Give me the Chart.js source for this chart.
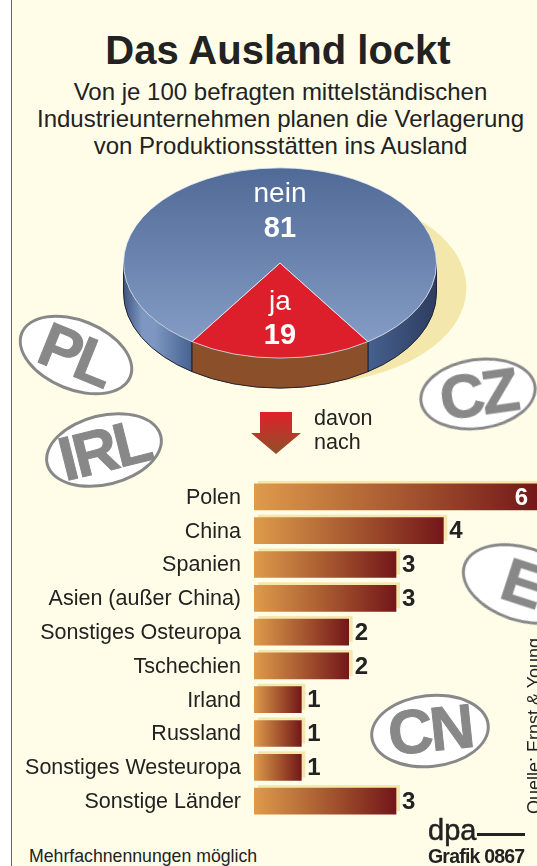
<!DOCTYPE html>
<html lang="de">
<head>
<meta charset="utf-8">
<title>Das Ausland lockt</title>
<script src="https://cdn.jsdelivr.net/npm/chart.js@4"></script>
<style>
    html, body { margin: 0; padding: 0; background: #fff; }
    body { width: 537px; height: 866px; overflow: hidden; position: relative; font-family: "Liberation Sans", Arial, sans-serif; color: #222; }
    #paper { position: absolute; left: 11px; top: 0; width: 526px; height: 866px; background: #fffde8; border-left: 1.5px solid #666; box-sizing: border-box; }
    canvas { position: absolute; }
    #pieCanvas { left: 80px; top: 106px; }
    #barCanvas { left: 0; top: 480px; }
    .txt { position: absolute; white-space: nowrap; }
    h1 { position: absolute; left: 0; width: 556px; top: 28px; margin: 0; text-align: center; font-size: 40px; line-height: 44px; font-weight: bold; color: #222; }
    #sub { position: absolute; left: 0; width: 561px; top: 78px; text-align: center; font-size: 24px; line-height: 27px; }
    .plate { position: absolute; background: #fff; border: 3.5px solid #888; border-radius: 50%; box-sizing: border-box; color: #888; font-weight: bold; text-align: center; font-size: 62px; letter-spacing: -3px; -webkit-text-stroke: 1px #888; }
    #source { position: absolute; left: 525px; top: 814px; transform-origin: 0 0; transform: rotate(-90deg); font-size: 18px; line-height: 19px; white-space: nowrap; }
</style>
</head>
<body>
<div id="paper"></div>
<h1>Das Ausland lockt</h1>
<div id="sub">Von je 100 befragten mittelständischen<br>Industrieunternehmen planen die Verlagerung<br>von Produktionsstätten ins Ausland</div>

<canvas id="pieCanvas" width="400" height="314"></canvas>
<canvas id="barCanvas" width="538" height="338"></canvas>

<div class="plate" style="left:16px;top:319px;width:120px;height:72px;transform:rotate(22deg);line-height:65px;">PL</div>
<div class="plate" style="left:44px;top:414px;width:120px;height:72px;transform:rotate(-14deg);line-height:66px;">IRL</div>
<div class="plate" style="left:419px;top:358px;width:118px;height:72px;transform:rotate(-8deg);line-height:65px;">CZ</div>
<div class="plate" style="left:460px;top:546px;width:124px;height:76px;transform:rotate(18deg);line-height:68px;">E</div>
<div class="plate" style="left:370px;top:694px;width:120px;height:74px;transform:rotate(-6deg);line-height:66px;">CN</div>

<svg style="position:absolute;left:248px;top:410px" width="56" height="46">
    <defs><linearGradient id="arrowFill" x1="0" y1="0" x2="0" y2="1"><stop offset="0" stop-color="#e0202a"/><stop offset="1" stop-color="#8f5029"/></linearGradient></defs>
    <polygon points="12,2 44,2 44,23 53,23 28,44 3,23 12,23" fill="url(#arrowFill)"/>
</svg>
<div class="txt" style="left:314px;top:406px;font-size:21.5px;line-height:24px;">davon<br>nach</div>

<div id="source">Quelle: Ernst &amp; Young</div>
<div class="txt" style="left:29px;top:846px;font-size:17.7px;line-height:20px;">Mehrfachnennungen möglich</div>
<div class="txt" style="left:428px;top:814px;font-size:29px;line-height:32px;-webkit-text-stroke:0.5px #222;">dpa</div>
<div style="position:absolute;left:477px;top:833px;width:48px;height:2.5px;background:#222;"></div>
<div class="txt" style="left:428px;top:846px;font-size:19.5px;line-height:20px;font-weight:bold;letter-spacing:-0.8px;">Grafik 0867</div>

<script>
const pieLabels = ["ja", "nein"]
const pieValues = [19, 81]
const categories = ["Polen", "China", "Spanien", "Asien (außer China)", "Sonstiges Osteuropa", "Tschechien", "Irland", "Russland", "Sonstiges Westeuropa", "Sonstige Länder"]
const values = [6, 4, 3, 3, 2, 2, 1, 1, 1, 3]

// the flat pie is squashed into an ellipse, side wall and shadow are painted around it
const squash = 0.608
const depth = 30

const tiltPie = {
    id: "tiltPie",
    beforeDatasetsDraw(chart) {
        const ctx = chart.ctx
        const arcs = chart.getDatasetMeta(0).data
        const cx = arcs[0].x, cy = arcs[0].y, rx = arcs[0].outerRadius, ry = rx * squash

        ctx.save()
        ctx.fillStyle = "#f4e7ab"
        ctx.beginPath()
        ctx.ellipse(cx + 30, cy + 25, rx, ry, 0, 0, Math.PI * 2)
        ctx.fill()

        const wall = (from, to, fill) => {
            ctx.beginPath()
            ctx.ellipse(cx, cy, rx, ry, 0, from, to)
            ctx.ellipse(cx, cy + depth, rx, ry, 0, to, from, true)
            ctx.closePath()
            ctx.fillStyle = fill
            ctx.fill()
            ctx.strokeStyle = "#1f2433"
            ctx.lineWidth = 1
            ctx.stroke()
        }
        const blueWall = ctx.createLinearGradient(cx - rx, 0, cx + rx, 0)
        blueWall.addColorStop(0, "#3d547f")
        blueWall.addColorStop(0.06, "#7d97c2")
        blueWall.addColorStop(0.1, "#7d97c2")
        blueWall.addColorStop(0.22, "#45618f")
        blueWall.addColorStop(0.78, "#45618f")
        blueWall.addColorStop(1, "#2e3c60")
        wall(arcs[1].startAngle, Math.PI, blueWall)
        wall(0, arcs[1].endAngle - Math.PI * 2, blueWall)
        wall(arcs[0].startAngle, arcs[0].endAngle, "#8b4f2a")

        ctx.translate(cx, cy)
        ctx.scale(1, squash)
        ctx.translate(-cx, -cy)
    },
    afterDatasetsDraw(chart) {
        const ctx = chart.ctx
        const arcs = chart.getDatasetMeta(0).data
        ctx.restore()
        ctx.save()
        ctx.fillStyle = "#fff"
        ctx.textAlign = "center"
        ctx.textBaseline = "middle"
        const cx = arcs[0].x, cy = arcs[0].y
        const label = (text, font, dy) => {
            ctx.font = font
            ctx.fillText(text, cx, cy + dy)
        }
        label(pieLabels[1], "28px 'Liberation Sans'", -69)
        label(pieValues[1], "bold 29px 'Liberation Sans'", -34)
        label(pieLabels[0], "28px 'Liberation Sans'", 39)
        label(pieValues[0], "bold 29px 'Liberation Sans'", 73)
        ctx.restore()
    }
}

new Chart(document.getElementById("pieCanvas"), {
    type: "pie",
    data: {
        labels: pieLabels,
        datasets: [{
            data: pieValues,
            borderColor: "#e8edf5",
            borderWidth: 1,
            backgroundColor: (c) => {
                if (c.dataIndex === 0) return "#dc1f2a"
                const area = c.chart.chartArea
                if (!area) return "#6a83ad"
                const mid = (area.top + area.bottom) / 2
                const r = (area.bottom - area.top) / 2
                const g = c.chart.ctx.createLinearGradient(0, mid - r, 0, mid + r)
                g.addColorStop(0, "#506a97")
                g.addColorStop(1, "#89a1c9")
                return g
            }
        }]
    },
    options: {
        responsive: false,
        animation: false,
        rotation: 145.8,
        layout: { padding: 0 },
        plugins: { legend: { display: false }, tooltip: { enabled: false }, title: { display: false } }
    },
    plugins: [tiltPie]
})

const barExtras = {
    id: "barExtras",
    beforeDatasetsDraw(chart) {
        const ctx = chart.ctx
        ctx.save()
        ctx.fillStyle = "#f4e7ab"
        chart.getDatasetMeta(0).data.forEach(bar => {
            ctx.fillRect(bar.base + 4, bar.y - bar.height / 2 - 3, bar.x - bar.base, bar.height)
        })
        ctx.restore()
    },
    afterDatasetsDraw(chart) {
        const ctx = chart.ctx
        ctx.save()
        ctx.font = "bold 24px 'Liberation Sans'"
        ctx.textBaseline = "middle"
        chart.getDatasetMeta(0).data.forEach((bar, i) => {
            const inside = values[i] === chart.scales.x.max
            ctx.fillStyle = inside ? "#fff" : "#222"
            ctx.textAlign = inside ? "right" : "left"
            ctx.fillText(values[i], inside ? bar.x - 10 : bar.x + 6, bar.y + 1)
        })
        ctx.restore()
    }
}

new Chart(document.getElementById("barCanvas"), {
    type: "bar",
    data: {
        labels: categories,
        datasets: [{
            data: values,
            barThickness: 26,
            backgroundColor: (c) => {
                const x = c.chart.scales.x
                if (!x || !c.chart.chartArea) return "#a85a30"
                const g = c.chart.ctx.createLinearGradient(x.getPixelForValue(0), 0, x.getPixelForValue(c.raw), 0)
                g.addColorStop(0, "#de9b4b")
                g.addColorStop(0.5, "#a85a31")
                g.addColorStop(1, "#731719")
                return g
            }
        }]
    },
    options: {
        indexAxis: "y",
        responsive: false,
        animation: false,
        layout: { padding: 0 },
        plugins: { legend: { display: false }, tooltip: { enabled: false } },
        scales: {
            x: { display: false, min: 0, max: 6 },
            y: {
                afterFit: (scale) => { scale.width = 254; scale.paddingTop = 0; scale.paddingBottom = 0 },
                grid: { display: false, drawTicks: false },
                border: { display: false },
                ticks: { padding: 13, labelOffset: 1, color: "#222", font: { family: "Liberation Sans", size: 21.5 }, autoSkip: false }
            }
        }
    },
    plugins: [barExtras]
})
</script>
</body>
</html>
